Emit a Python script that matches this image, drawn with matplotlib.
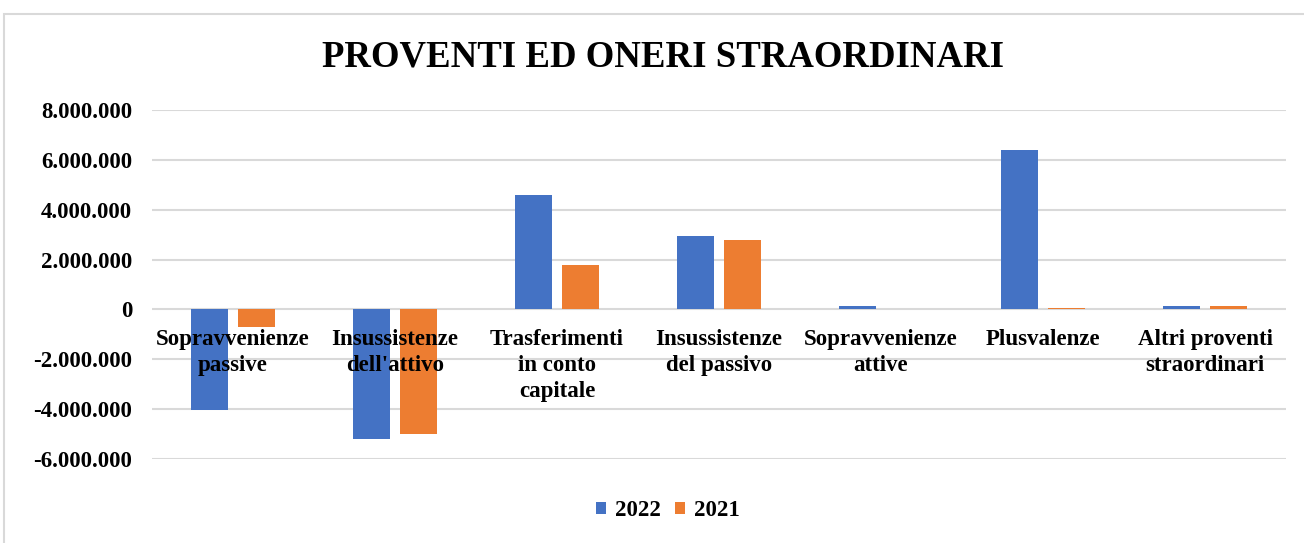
import matplotlib
matplotlib.use("Agg")
import matplotlib.pyplot as plt
import numpy as np
from matplotlib.patches import Rectangle

categories = ["Sopravvenienze\npassive", "Insussistenze\ndell'attivo", "Trasferimenti\nin conto\ncapitale",
              "Insussistenze\ndel passivo", "Sopravvenienze\nattive", "Plusvalenze", "Altri proventi\nstraordinari"]
values_2022 = [-4020000, -5200000, 4600000, 2950000, 130000, 6390000, 130000]
values_2021 = [-720000, -4990000, 1770000, 2800000, 0, 60000, 140000]
series_names = ["2022", "2021"]
yticks = [-6000000, -4000000, -2000000, 0, 2000000, 4000000, 6000000, 8000000]
ytick_labels = ["-6.000.000", "-4.000.000", "-2.000.000", "0", "2.000.000", "4.000.000", "6.000.000", "8.000.000"]
title = "PROVENTI ED ONERI STRAORDINARI"

blue = "#4472C4"
orange = "#ED7D31"
grid = "#D9D9D9"
font = "Liberation Serif"
fs = 16.5

fig = plt.figure(figsize=(13.04, 5.43), dpi=100)
fig.patches.append(Rectangle((4/1304, -0.1), 1.1, 1 - 14/543 + 0.1, transform=fig.transFigure,
                             fill=False, edgecolor="#D9D9D9", linewidth=1.5))
ax = fig.add_axes([152/1304, 1 - 459/543, (1286-152)/1304, (459-110)/543])

x = np.arange(len(categories))
w = 0.228
off = 0.143
ax.bar(x - off, values_2022, width=w, color=blue, label=series_names[0], zorder=3)
ax.bar(x + off, values_2021, width=w, color=orange, label=series_names[1], zorder=3)

ax.set_xlim(-0.5, len(categories) - 0.5)
ax.set_ylim(-6000000, 8000000)
ax.set_yticks(yticks)
ax.set_yticklabels(ytick_labels, fontfamily=font, fontweight="bold", fontsize=fs)
ax.tick_params(axis="y", length=0, pad=14.4)
ax.set_xticks([])
ax.grid(axis="y", color=grid, linewidth=1.5, zorder=0)
for s in ax.spines.values():
    s.set_visible(False)

for i, lab in enumerate(categories):
    ax.annotate(lab, xy=(i, 0), xytext=(0, -14), textcoords="offset points",
                ha="center", va="top", fontfamily=font, fontweight="bold", fontsize=fs,
                linespacing=1.33, zorder=4)

fig.text(663/1304, 1 - 57/543, title, ha="center", va="center", fontfamily=font,
         fontweight="bold", fontsize=26.5)

handles, labels = ax.get_legend_handles_labels()
fig.legend(handles, labels, loc="center", bbox_to_anchor=(668/1304, 1 - 511/543), ncol=2,
           frameon=False, prop={"family": font, "weight": "bold", "size": fs},
           handlelength=0.45, handleheight=0.45, handletextpad=0.4, columnspacing=0.6)

fig.savefig("out.png", dpi=100)
